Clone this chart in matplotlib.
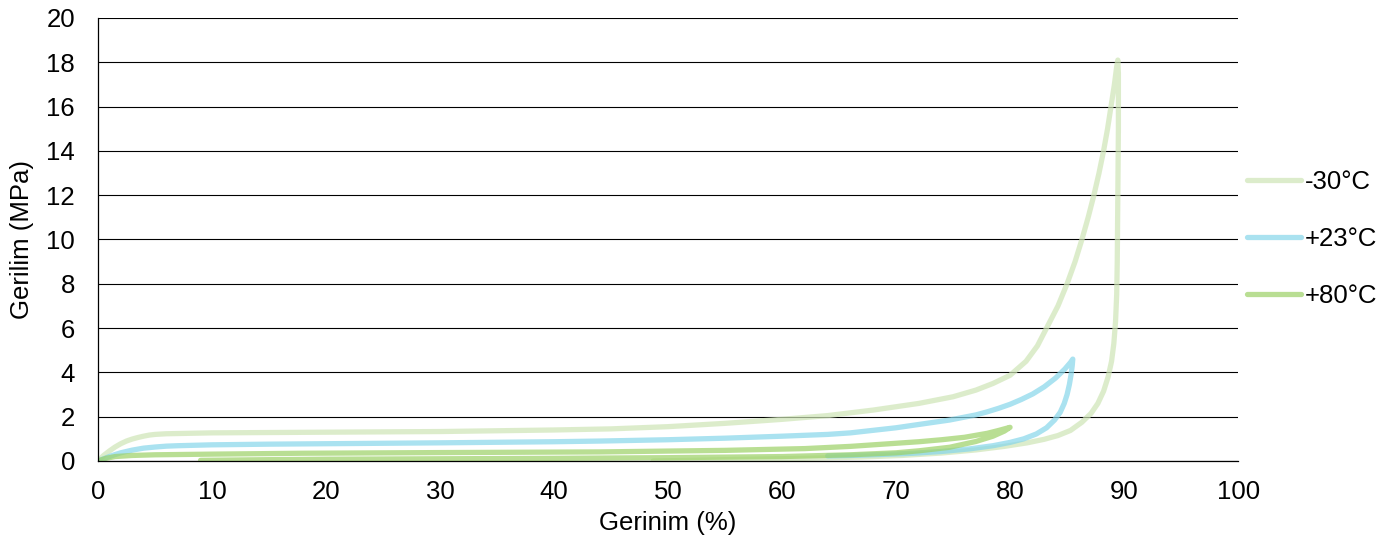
import matplotlib
matplotlib.use('Agg')
import matplotlib.pyplot as plt

plt.rcParams['font.family'] = ['Liberation Sans', 'DejaVu Sans']

# Stress-strain loops (loading then unloading) per test temperature
labels = ['-30°C', '+23°C', '+80°C']

strain_m30 = [0, 0.5, 1, 1.5, 2, 2.5, 3, 3.5, 4, 4.5, 5, 6, 8, 10, 20, 30, 40, 45, 50, 55,
              60, 64, 68, 72, 75, 77, 78.5, 80, 81.4, 82.4, 83.2, 84.2, 85.0, 85.7, 86.3,
              86.85, 87.35, 87.8, 88.2, 88.55, 88.85, 89.15, 89.35, 89.45,
              89.5, 89.5, 89.45, 89.4, 89.35, 89.25, 89.1, 88.9, 88.6, 88.2, 87.7, 87.1,
              86.3, 85.3, 84.2, 83, 81.5, 79.5, 77, 74, 70.5, 67, 62, 56, 52, 48.7]
stress_m30 = [0, 0.25, 0.45, 0.63, 0.78, 0.9, 0.99, 1.06, 1.12, 1.17, 1.2, 1.23, 1.25, 1.27,
              1.3, 1.33, 1.4, 1.45, 1.55, 1.7, 1.88, 2.05, 2.3, 2.6, 2.9, 3.2, 3.5, 3.87,
              4.5, 5.2, 6.0, 7.0, 8.0, 9.0, 10.0, 11.0, 12.0, 13.0, 14.0, 15.0, 16.0, 17.0,
              17.8, 18.1,
              17.5, 15, 12, 9, 7.5, 6.3, 5.3, 4.5, 3.8, 3.15, 2.6, 2.15,
              1.75, 1.38, 1.15, 0.98, 0.82, 0.66, 0.5, 0.36, 0.25, 0.18, 0.12, 0.07, 0.03, 0.0]

strain_p23 = [0, 0.5, 1, 1.5, 2, 3, 4, 5, 6, 7, 10, 15, 20, 30, 40, 44, 50, 55, 60, 64, 66,
              70, 72, 74.7, 77, 78, 79, 80, 81, 82, 83, 84, 84.8, 85.3, 85.5,
              85.45, 85.35, 85.2, 85.0, 84.75, 84.4, 83.9, 83.2, 82.3, 81.2, 80, 78.5, 76.5,
              74, 71.5, 68.5, 66, 64]
stress_p23 = [0, 0.1, 0.2, 0.29, 0.37, 0.49, 0.58, 0.63, 0.67, 0.69, 0.73, 0.76, 0.78, 0.82,
              0.87, 0.9, 0.96, 1.03, 1.12, 1.2, 1.27, 1.5, 1.65, 1.85, 2.08, 2.22, 2.38, 2.56,
              2.78, 3.03, 3.35, 3.75, 4.15, 4.45, 4.6,
              4.3, 3.9, 3.45, 3.0, 2.6, 2.2, 1.85, 1.5, 1.22, 1.0, 0.84, 0.69, 0.55,
              0.43, 0.35, 0.29, 0.25, 0.23]

strain_p80 = [0, 0.7, 1.5, 3, 5, 10, 18, 30, 44, 55, 62, 66, 70, 72, 74, 76, 78, 79, 80,
              79.5, 78.5, 77, 74.7, 72, 70, 66, 60, 50, 40, 30, 20, 15, 9]
stress_p80 = [0, 0.12, 0.2, 0.25, 0.28, 0.31, 0.35, 0.38, 0.41, 0.48, 0.56, 0.66, 0.8, 0.87,
              0.96, 1.07, 1.25, 1.38, 1.52,
              1.35, 1.12, 0.88, 0.62, 0.46, 0.37, 0.28, 0.2, 0.15, 0.12, 0.1, 0.08, 0.06, 0.03]

colors = ['#cee5b6', '#86d6ea', '#9cd166']
fs = 18.5

fig = plt.figure(figsize=(13.99, 5.40), dpi=100)
ax = fig.add_axes([0.070, 0.1463, 0.815, 0.8204])

series = [(strain_m30, stress_m30), (strain_p23, stress_p23), (strain_p80, stress_p80)]
for (xs, ys), lab, c in zip(series, labels, colors):
    ax.plot(xs, ys, color=c, alpha=0.7, linewidth=3.8, solid_capstyle='round',
            solid_joinstyle='round', label=lab)

ax.set_xlim(0, 100)
ax.set_ylim(0, 20)
ax.set_xticks(range(0, 101, 10))
ax.set_yticks(range(0, 21, 2))
ax.grid(axis='y', color='#000000', linewidth=0.8)
ax.set_axisbelow(True)
for side in ['top', 'right']:
    ax.spines[side].set_visible(False)
for side in ['left', 'bottom']:
    ax.spines[side].set_color('#000000')
    ax.spines[side].set_linewidth(0.9)
ax.tick_params(length=0, labelsize=fs, labelcolor='#000000')
ax.tick_params(axis='y', pad=16.5)
ax.tick_params(axis='x', pad=14)

ax.set_xlabel('Gerinim (%)', fontsize=fs, labelpad=5)
ax.set_ylabel('Gerilim (MPa)', fontsize=fs, labelpad=9)

leg = fig.legend(loc='center left', bbox_to_anchor=(1247 / 1399, 1 - 239 / 540),
                 frameon=False, fontsize=fs, handlelength=2.1, handletextpad=0.15,
                 labelspacing=1.3, borderpad=0, borderaxespad=0)

fig.savefig('out.png', dpi=100)
